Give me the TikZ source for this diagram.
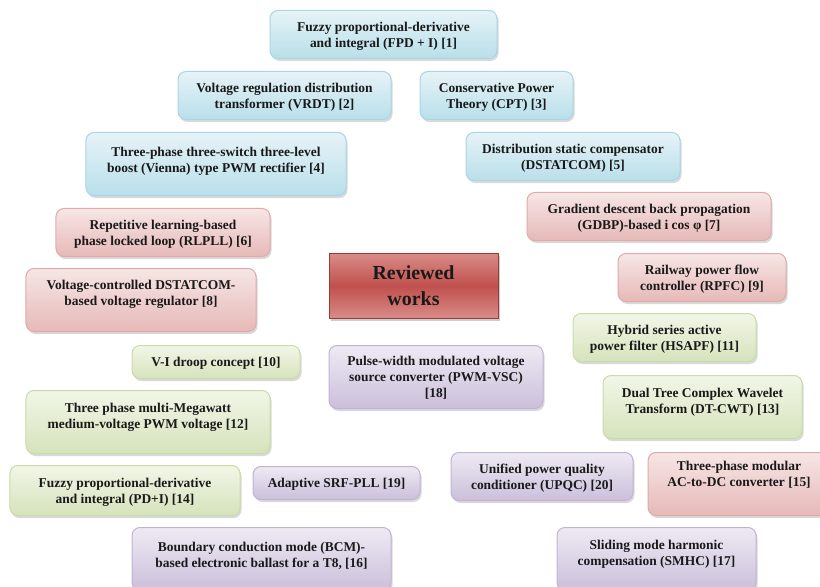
\documentclass[tikz,border=0pt]{standalone}
\usepackage{fontspec}
\setmainfont{Liberation Serif}
\usepackage{tikz}
\usetikzlibrary{shadows}
\usepackage{xcolor}

\definecolor{blueedge}{HTML}{A8D6E3}
\definecolor{bluetop}{HTML}{E6F3F7}
\definecolor{bluebot}{HTML}{B9DFEA}
\definecolor{pinkedge}{HTML}{E0AAA8}
\definecolor{pinktop}{HTML}{F6E6E5}
\definecolor{pinkbot}{HTML}{E6B9B8}
\definecolor{greenedge}{HTML}{CADCA5}
\definecolor{greentop}{HTML}{F1F6E7}
\definecolor{greenbot}{HTML}{D6E3BC}
\definecolor{violetedge}{HTML}{C1B3D4}
\definecolor{violettop}{HTML}{EEEAF4}
\definecolor{violetbot}{HTML}{CBBFDA}
\definecolor{hubred}{HTML}{C0504D}
\definecolor{hublight}{HTML}{D98C89}
\definecolor{hubedge}{HTML}{9A3B39}

\begin{document}
\begin{tikzpicture}[
    x=1bp,
    y=-1bp,
    every node/.style={
        align=center,
        text=black!90,
        font=\bfseries\fontsize{13.5}{16}\selectfont
    },
    wbox/.style={
        rounded corners=8bp,
        line width=1bp,
        inner xsep=3bp,
        inner ysep=4bp,
        minimum height=48bp,
        text depth=0bp,
        anchor=north,
        drop shadow={shadow xshift=1.5bp, shadow yshift=-2.5bp, opacity=0.3}
    },
    bluebox/.style={wbox, draw=blueedge, top color=bluetop, bottom color=bluebot},
    pinkbox/.style={wbox, draw=pinkedge, top color=pinktop, bottom color=pinkbot},
    greenbox/.style={wbox, draw=greenedge, top color=greentop, bottom color=greenbot},
    violetbox/.style={wbox, draw=violetedge, top color=violettop, bottom color=violetbot},
    onebox/.style={minimum height=33bp},
    tallbox/.style={minimum height=63bp, text depth=12bp},
    hub/.style={
        rectangle,
        draw=hubedge,
        line width=0.8bp,
        top color=hublight,
        bottom color=hublight,
        middle color=hubred,
        anchor=north,
        minimum width=169bp,
        minimum height=65bp,
        font=\bfseries\fontsize{20}{26}\selectfont,
        drop shadow={shadow xshift=2bp, shadow yshift=-2.5bp, opacity=0.4}
    }
]
\useasboundingbox (0,0) rectangle (820,587);

% ---------------- Centre ----------------
\node[hub] (reviewed) at (413.5,253) {Reviewed\\works};

% ---------------- Blue group ----------------
\node[bluebox, minimum width=227bp] (fpdi) at (383.5,10)
    {Fuzzy proportional-derivative\\and integral (FPD + I) [1]};
\node[bluebox, minimum width=213bp] (vrdt) at (284.5,71)
    {Voltage regulation distribution\\transformer (VRDT) [2]};
\node[bluebox, minimum width=153bp] (cpt) at (496.5,71)
    {Conservative Power\\Theory (CPT) [3]};
\node[bluebox, tallbox, text depth=8bp, minimum width=260bp] (vienna) at (216,132)
    {Three-phase three-switch three-level\\boost (Vienna) type PWM rectifier [4]};
\node[bluebox, minimum width=214bp] (dstatcom) at (573,132)
    {Distribution static compensator\\(DSTATCOM) [5]};

% ---------------- Pink group ----------------
\node[pinkbox, minimum width=214bp] (rlpll) at (163,208)
    {Repetitive learning-based\\phase locked loop (RLPLL) [6]};
\node[pinkbox, minimum width=244bp] (gdbp) at (649,192)
    {Gradient descent back propagation\\(GDBP)-based i cos φ [7]};
\node[pinkbox, tallbox, text depth=14bp, minimum width=230bp] (vcdstat) at (141,268)
    {Voltage-controlled DSTATCOM-\\based voltage regulator [8]};
\node[pinkbox, minimum width=168bp] (rpfc) at (702,253)
    {Railway power flow\\controller (RPFC) [9]};
\node[pinkbox, tallbox, text depth=20bp, minimum width=182bp] (acdc) at (739,452)
    {Three-phase modular\\AC-to-DC converter [15]};

% ---------------- Green group ----------------
\node[greenbox, onebox, minimum width=168bp] (droop) at (216,345)
    {V-I droop concept [10]};
\node[greenbox, minimum width=183bp] (hsapf) at (664.5,313)
    {Hybrid series active\\power filter (HSAPF) [11]};
\node[greenbox, tallbox, minimum width=244bp] (megawatt) at (148,390)
    {Three phase multi-Megawatt\\medium-voltage PWM voltage [12]};
\node[greenbox, tallbox, minimum width=199bp] (dtcwt) at (702.5,375)
    {Dual Tree Complex Wavelet\\Transform (DT-CWT) [13]};
\node[greenbox, minimum height=50bp, minimum width=230bp] (pdi) at (125,465)
    {Fuzzy proportional-derivative\\and integral (PD+I) [14]};

% ---------------- Violet group ----------------
\node[violetbox, tallbox, text depth=8bp, minimum width=259bp] (bcm) at (261.5,527)
    {Boundary conduction mode (BCM)-\\based electronic ballast for a T8, [16]};
\node[violetbox, tallbox, minimum width=199bp] (smhc) at (656.5,527)
    {Sliding mode harmonic\\compensation (SMHC) [17]};
\node[violetbox, minimum height=63bp, minimum width=214bp] (pwmvsc) at (436,345)
    {Pulse-width modulated voltage\\source converter (PWM-VSC)\\[0pt][18]};
\node[violetbox, onebox, minimum width=167bp] (srfpll) at (336.5,466)
    {Adaptive SRF-PLL [19]};
\node[violetbox, minimum width=182bp] (upqc) at (542,452)
    {Unified power quality\\conditioner (UPQC) [20]};

\end{tikzpicture}
\end{document}
